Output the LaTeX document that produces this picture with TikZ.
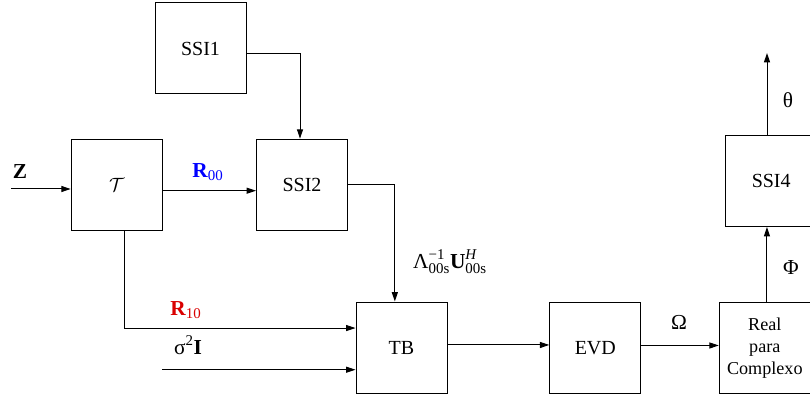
\documentclass[tikz,border=0pt]{standalone}
\usepackage{amsmath}
\usepackage{amssymb}
\usepackage{fontspec}
\setmainfont{Liberation Serif}
\usetikzlibrary{arrows.meta}

\begin{document}
\begin{tikzpicture}[x=0.75pt,y=0.75pt,yscale=-1,xscale=1,
  blk/.style={draw, line width=0.75pt, minimum width=68.25pt, minimum height=68.25pt, inner sep=0pt, font=\fontsize{15}{18}\selectfont},
  arr/.style={line width=0.75pt, -{Triangle[length=7pt,width=4.5pt]}},
  lbl/.style={inner sep=0.75pt, font=\fontsize{16}{19}\selectfont}]
\useasboundingbox (0,0) rectangle (810,399);

%Shape: Square [id:ssi1]
\node [blk] (ssi1) at (200.5,48.5) {SSI1};
%Shape: Square [id:tt]
\node [blk] (tt) at (116.7,184.7) {$\mathcal{T}$};
%Shape: Square [id:ssi2]
\node [blk] (ssi2) at (302,184.7) {SSI2};
%Shape: Square [id:tb]
\node [blk] (tb) at (401.5,347.5) {TB};
%Shape: Square [id:evd]
\node [blk] (evd) at (595.3,348) {EVD};
%Shape: Square [id:rpc]
\node [blk, align=center, font=\fontsize{13.6}{16.5}\selectfont] (rpc) at (764.8,347.7) {Real\\para\\Complexo};
%Shape: Square [id:ssi4]
\node [blk] (ssi4) at (771.2,181) {SSI4};

%Free ends
\coordinate (zin) at (11,189);
\coordinate (sgin) at (162,369.7);
\coordinate (thout) at (767,53);

%Straight Lines
\draw [arr] (zin) -- (zin -| tt.west);
\draw [arr] ([yshift=4.5pt]tt.east) -- ([yshift=4.5pt]ssi2.west);
\draw [arr] ([yshift=4pt]ssi1.east) -| ([xshift=-1.5pt]ssi2.north);
\draw [arr] (ssi2.east) -| ([xshift=-5pt]tb.north);
\draw [arr] ([xshift=5.7pt]tt.south) |- ([yshift=-14.6pt]tb.west);
\draw [arr] (sgin) -- (sgin -| tb.west);
\draw [arr] ([yshift=-1.9pt]tb.east) -- ([yshift=-1.9pt]tb.east -| evd.west);
\draw [arr] ([yshift=-1.9pt]evd.east) -- ([yshift=-1.9pt]evd.east -| rpc.west);
\draw [arr] ([xshift=1.6pt]rpc.north) -- ([xshift=1.6pt]rpc.north |- ssi4.south);
\draw [arr] (thout |- ssi4.north) -- (thout);

% Text Node
\node [lbl] (zlab) at (20,171.5) {\textbf{Z}};
% Text Node
\node [lbl, text=blue] (r00) at (208,172) {$\textbf{R}_{\textrm{00}}$};
% Text Node
\node [lbl, text=red!85!black] (r10) at (186,310) {$\textbf{R}_{\textrm{10}}$};
% Text Node
\node [lbl] (sig) at (188,345) {$\textrm{σ}^{\textrm{2}}\textbf{I}$};
% Text Node
\node [lbl] (lam) at (450,262) {$\textrm{Λ}^{\textrm{−1}}_{\textrm{00s}}\textbf{U}^{\textit{H}}_{\textrm{00s}}$};
% Text Node
\node [lbl] (om) at (679,322) {Ω};
% Text Node
\node [lbl] (ph) at (791,268) {Φ};
% Text Node
\node [lbl] (th) at (788,100) {θ};

\end{tikzpicture}
\end{document}
